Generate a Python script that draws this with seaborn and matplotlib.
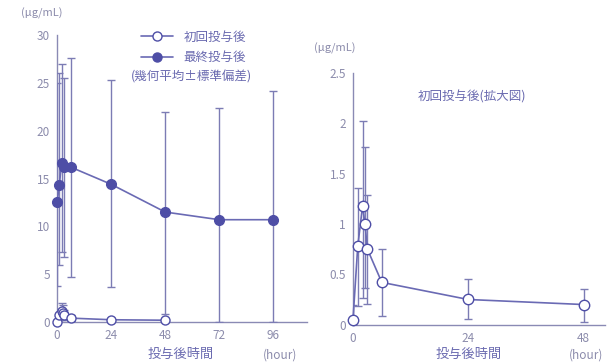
import numpy as np
import pandas as pd
import matplotlib
matplotlib.use("Agg")
import matplotlib.pyplot as plt
import seaborn as sns
from matplotlib.lines import Line2D

sns.set_theme(style="white")
plt.rcParams["font.family"] = ["Noto Sans CJK JP", "DejaVu Sans"]

# Serum concentration (geometric mean ± SD), ug/mL
time_first = [0, 1, 2, 2.5, 3, 6, 24, 48]
mean_first = [0.05, 0.78, 1.18, 1.00, 0.75, 0.42, 0.25, 0.20]
upper_first = [0.20, 1.36, 2.02, 1.76, 1.29, 0.75, 0.45, 0.35]
lower_first = [0.00, 0.19, 0.26, 0.36, 0.21, 0.09, 0.06, 0.03]

time_last = [0, 1, 2, 3, 6, 24, 48, 72, 96]
mean_last = [12.5, 14.3, 16.6, 16.2, 16.2, 14.4, 11.5, 10.7, 10.7]
upper_last = [25.0, 26.0, 27.0, 25.5, 27.6, 25.3, 22.0, 22.4, 24.1]
lower_last = [3.8, 6.0, 7.3, 6.8, 4.7, 3.7, 0.9, 0.0, 0.0]

left_xticks = [0, 24, 48, 72, 96]
left_xticklabels = ["0", "24", "48", "72", "96"]
left_yticks = [0, 5, 10, 15, 20, 25, 30]
right_xticks = [0, 24, 48]
right_yticks = [0, 0.5, 1, 1.5, 2, 2.5]
right_yticklabels = ["0", "0.5", "1", "1.5", "2", "2.5"]

first_df = pd.DataFrame({"time": time_first, "conc": mean_first})
last_df = pd.DataFrame({"time": time_last, "conc": mean_last})

line_c = "#6a6ab4"
mark_c = "#4e4ea6"
err_c = "#7c7cb4"
axis_c = "#8a8ab4"
text_c = "#6a6ab0"
tick_c = "#8c8cac"

fig = plt.figure(figsize=(6.07, 3.64), dpi=100)
axL = fig.add_axes([0.094, 0.115, 0.412, 0.789])
axR = fig.add_axes([0.5815, 0.108, 0.4155, 0.692])


def draw_series(ax, df, upper, lower, filled, ms, zorder):
    yerr = np.array([np.array(df["conc"]) - np.array(lower),
                     np.array(upper) - np.array(df["conc"])])
    ax.errorbar(df["time"], df["conc"], yerr=yerr, fmt="none",
                ecolor=err_c, elinewidth=1.0, capsize=3, capthick=1.0,
                zorder=zorder - 1)
    sns.lineplot(data=df, x="time", y="conc", ax=ax, color=line_c,
                 linewidth=1.2, marker="o", markersize=ms,
                 markerfacecolor=mark_c if filled else "white",
                 markeredgecolor=mark_c, markeredgewidth=1.0,
                 zorder=zorder, clip_on=False)


draw_series(axL, last_df, upper_last, lower_last, True, 7, 4)
draw_series(axL, first_df, upper_first, lower_first, False, 6.5, 6)
draw_series(axR, first_df, upper_first, lower_first, False, 7.5, 6)

for ax in (axL, axR):
    for s in ("top", "right"):
        ax.spines[s].set_visible(False)
    for s in ("left", "bottom"):
        ax.spines[s].set_color(axis_c)
        ax.spines[s].set_linewidth(1.0)
    ax.tick_params(axis="both", direction="out", length=3, width=0.8,
                   color=axis_c, labelcolor=tick_c, labelsize=8.5, pad=2)
    ax.set_xlabel("")
    ax.set_ylabel("")
    ax.grid(False)

axL.set_xlim(0, 111)
axL.set_ylim(0, 30)
axL.set_xticks(left_xticks)
axL.set_xticklabels(left_xticklabels)
axL.set_yticks(left_yticks)

axR.set_xlim(0, 52.5)
axR.set_ylim(0, 2.5)
axR.set_xticks(right_xticks)
axR.set_yticks(right_yticks)
axR.set_yticklabels(right_yticklabels)

# unit labels
fig.text(0.035, 0.962, "(μg/mL)", color=tick_c, fontsize=8, va="center")
fig.text(0.518, 0.868, "(μg/mL)", color=tick_c, fontsize=8, va="center")

# legend
handles = [
    Line2D([0], [0], color=line_c, lw=1.2, marker="o", ms=6.5,
           markerfacecolor="white", markeredgecolor=mark_c),
    Line2D([0], [0], color=line_c, lw=1.2, marker="o", ms=6.5,
           markerfacecolor=mark_c, markeredgecolor=mark_c),
]
leg = axL.legend(handles, ["初回投与後", "最終投与後"], loc="upper left",
                 bbox_to_anchor=(0.29, 1.055), frameon=False, fontsize=9,
                 handlelength=2.6, labelspacing=0.6, handletextpad=0.8,
                 labelcolor=text_c)
fig.text(0.215, 0.788, "(幾何平均±標準偏差)", color=text_c, fontsize=9,
         va="center")

fig.text(0.778, 0.733, "初回投与後(拡大図)", color=text_c, fontsize=9,
         ha="center", va="center")

# x-axis captions
fig.text(0.297, 0.025, "投与後時間", color=text_c, fontsize=9.5,
         ha="center", va="center")
fig.text(0.462, 0.025, "(hour)", color=tick_c, fontsize=8.5,
         ha="center", va="center")
fig.text(0.772, 0.025, "投与後時間", color=text_c, fontsize=9.5,
         ha="center", va="center")
fig.text(0.966, 0.025, "(hour)", color=tick_c, fontsize=8.5,
         ha="center", va="center")

fig.savefig("out.png", dpi=100, facecolor="white")
